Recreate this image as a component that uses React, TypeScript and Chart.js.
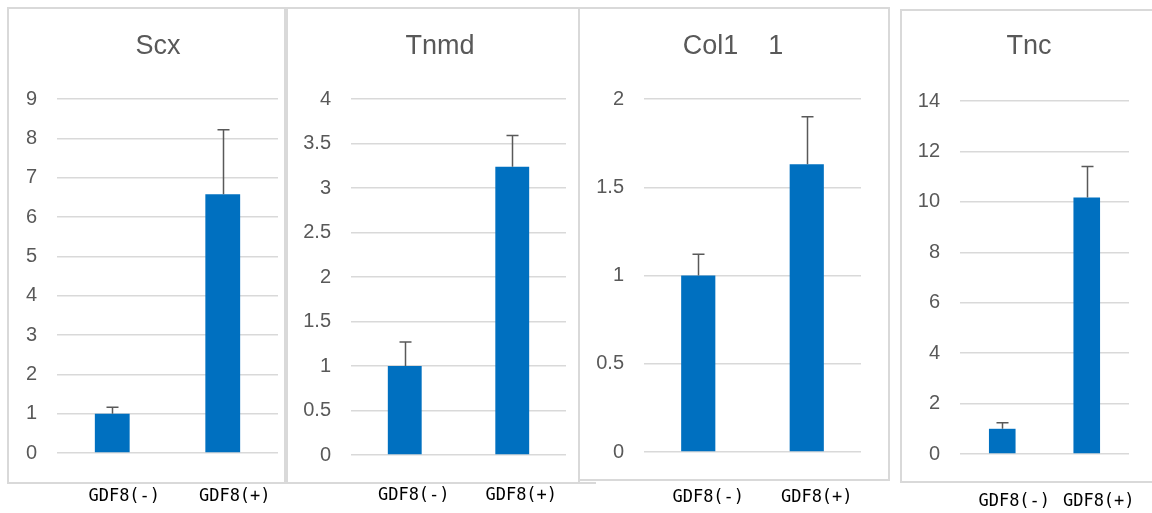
import React, { useEffect, useRef } from "react";
import { Chart, registerables } from "chart.js";

Chart.register(...registerables);

// ---- data ----
const categories = ["GDF8(-)", "GDF8(+)"];

const scxValues = [1, 6.58];
const scxErrors = [0.16, 1.64];
const scxMax = 9;
const scxStep = 1;

const tnmdValues = [1, 3.24];
const tnmdErrors = [0.27, 0.35];
const tnmdMax = 4;
const tnmdStep = 0.5;

const col1Values = [1, 1.63];
const col1Errors = [0.12, 0.27];
const col1Max = 2;
const col1Step = 0.5;

const tncValues = [1, 10.17];
const tncErrors = [0.24, 1.23];
const tncMax = 14;
const tncStep = 2;

const titles = ["Scx", "Tnmd", "Col1    1", "Tnc"];

// ---- layout (page pixels) ----
const H = 513;
const BLUE = "#0070C0";
const TEXT = "#595959";
const GRID = "#d9d9d9";

type PanelCfg = {
  title: string;
  values: number[];
  errors: number[];
  max: number;
  step: number;
  canvasLeft: number;
  titleCenter: number;
  plotLeft: number;
  plotRight: number;
  plotTop: number;
  plotBottom: number;
  labelY: number;
  labelOffset: number;
  box: { left: number; top: number; right: number; bottom: number };
};

const panels: PanelCfg[] = [
  {
    title: titles[0], values: scxValues, errors: scxErrors, max: scxMax, step: scxStep,
    canvasLeft: 0, titleCenter: 158, plotLeft: 57, plotRight: 278, plotTop: 99, plotBottom: 453,
    labelY: 497, labelOffset: 12,
    box: { left: 7, top: 7, right: 286, bottom: 484 },
  },
  {
    title: titles[1], values: tnmdValues, errors: tnmdErrors, max: tnmdMax, step: tnmdStep,
    canvasLeft: 290, titleCenter: 440, plotLeft: 351, plotRight: 566, plotTop: 99, plotBottom: 455,
    labelY: 496, labelOffset: 9,
    box: { left: 286, top: 7, right: 580, bottom: 484 },
  },
  {
    title: titles[2], values: col1Values, errors: col1Errors, max: col1Max, step: col1Step,
    canvasLeft: 590, titleCenter: 733, plotLeft: 644, plotRight: 861, plotTop: 99, plotBottom: 452,
    labelY: 498, labelOffset: 10,
    box: { left: 578, top: 7, right: 890, bottom: 481 },
  },
  {
    title: titles[3], values: tncValues, errors: tncErrors, max: tncMax, step: tncStep,
    canvasLeft: 908, titleCenter: 1029, plotLeft: 960, plotRight: 1129, plotTop: 101, plotBottom: 454,
    labelY: 502, labelOffset: 12,
    box: { left: 900, top: 9, right: 1160, bottom: 483 },
  },
];

const errorBarPlugin = {
  id: "errorBars",
  afterDatasetsDraw(chart: any, _args: any, opts: any) {
    const errs: number[] = opts.errors || [];
    const meta = chart.getDatasetMeta(0);
    const yScale = chart.scales.y;
    const ctx = chart.ctx;
    const data = chart.data.datasets[0].data as number[];
    ctx.save();
    ctx.strokeStyle = opts.color;
    ctx.lineWidth = opts.width;
    meta.data.forEach((bar: any, i: number) => {
      const top = yScale.getPixelForValue(data[i] + errs[i]);
      const x = Math.round(bar.x) + 0.5;
      ctx.beginPath();
      ctx.moveTo(x, bar.y);
      ctx.lineTo(x, top);
      ctx.moveTo(x - opts.cap / 2, top);
      ctx.lineTo(x + opts.cap / 2, top);
      ctx.stroke();
    });
    ctx.restore();
  },
};

function Panel({ cfg }: { cfg: PanelCfg }) {
  const ref = useRef<HTMLCanvasElement | null>(null);
  // canvas symmetric around the title centre (title spans the full canvas width)
  const canvasRight = 2 * cfg.titleCenter - cfg.canvasLeft;
  const canvasWidth = canvasRight - cfg.canvasLeft;
  useEffect(() => {
    if (!ref.current) return;
    const titleSize = 27;
    const titleLH = titleSize * 1.2;
    const titlePadTop = 30;
    const titlePadBottom = cfg.plotTop - titlePadTop - titleLH;
    const xFontSize = 17;
    const xLH = xFontSize * 1.2;
    const xPad = cfg.labelY - cfg.plotBottom - xLH / 2;
    const yWidth = cfg.plotLeft - cfg.canvasLeft;
    const rightWidth = canvasRight - cfg.plotRight;
    const chart = new Chart(ref.current, {
      type: "bar",
      data: {
        labels: categories,
        datasets: [
          {
            data: cfg.values,
            backgroundColor: BLUE,
            borderWidth: 0,
            barPercentage: 0.315,
            categoryPercentage: 1,
          },
        ],
      },
      plugins: [errorBarPlugin],
      options: {
        responsive: false,
        animation: false,
        devicePixelRatio: 1,
        layout: { padding: 0 },
        plugins: {
          legend: { display: false },
          tooltip: { enabled: false },
          title: {
            display: true,
            text: cfg.title,
            color: TEXT,
            font: { family: "'Liberation Sans', Arial, sans-serif", size: titleSize, weight: "normal", lineHeight: 1.2 },
            padding: { top: titlePadTop, bottom: titlePadBottom },
          },
          errorBars: { errors: cfg.errors, color: "#595959", width: 1.5, cap: 12 },
        } as any,
        scales: {
          x: {
            grid: { display: false, drawTicks: false },
            border: { display: false },
            ticks: {
              color: "#000",
              padding: xPad,
              labelOffset: cfg.labelOffset,
              maxRotation: 0,
              autoSkip: false,
              font: { family: "'DejaVu Sans Mono', monospace", size: xFontSize, lineHeight: 1.2 },
            },
            afterFit: (s: any) => {
              s.height = H - cfg.plotBottom;
              s.paddingLeft = 0;
              s.paddingRight = 0;
            },
          },
          y: {
            min: 0,
            max: cfg.max,
            grid: { color: GRID, lineWidth: 1.5, drawTicks: false },
            border: { display: false },
            ticks: {
              stepSize: cfg.step,
              color: TEXT,
              padding: 20,
              font: { family: "'Liberation Sans', Arial, sans-serif", size: 20 },
              callback: (v: any) => String(Number(v)),
            },
            afterFit: (s: any) => {
              s.width = yWidth;
              s.paddingTop = 0;
              s.paddingBottom = 0;
            },
          },
          spacer: {
            type: "linear",
            position: "right",
            min: 0,
            max: 1,
            grid: { display: false, drawTicks: false },
            border: { display: false },
            ticks: { display: false },
            afterFit: (s: any) => {
              s.width = rightWidth;
              s.paddingTop = 0;
              s.paddingBottom = 0;
            },
          },
        },
      } as any,
    });
    return () => chart.destroy();
  }, [cfg]);
  return (
    <canvas
      ref={ref}
      width={canvasWidth}
      height={H}
      style={{ position: "absolute", left: cfg.canvasLeft, top: 0, width: canvasWidth, height: H }}
    />
  );
}

export default function App() {
  return (
    <div style={{ position: "absolute", left: 0, top: 0, width: 1152, height: H, background: "#fff", overflow: "hidden" }}>
      {panels.map((p, i) => (
        <div
          key={"b" + i}
          style={{
            position: "absolute",
            left: p.box.left,
            top: p.box.top,
            width: p.box.right - p.box.left,
            height: p.box.bottom - p.box.top,
            border: "2px solid " + GRID,
            boxSizing: "border-box",
            background: "#fff",
          }}
        />
      ))}
      <div style={{ position: "absolute", left: 580, top: 482, width: 16, height: 2, background: GRID }} />
      {panels.map((p, i) => (
        <Panel key={"c" + i} cfg={p} />
      ))}
    </div>
  );
}
